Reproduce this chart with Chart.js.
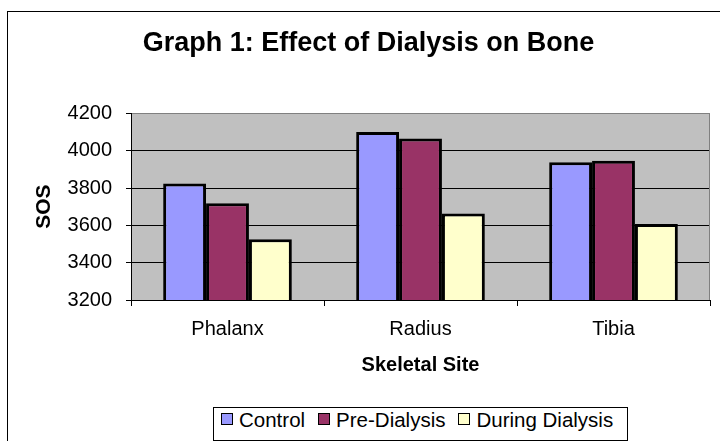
<!DOCTYPE html>
<html>
<head>
<meta charset="utf-8">
<script src="https://cdn.jsdelivr.net/npm/chart.js@4.4.1/dist/chart.umd.min.js"></script>
<style>
  html, body { margin: 0; padding: 0; background: #fff; overflow: hidden; width: 720px; height: 441px; }
  #frame { position: absolute; left: 7px; top: 11px; width: 721px; height: 440px; border: 1px solid #000; }
  #legend {
    position: absolute; left: 213px; top: 407px; width: 415px; height: 34px;
    box-sizing: border-box; border: 1px solid #000; display: flex; align-items: flex-start;
    padding-left: 7px; font: 20.5px "Liberation Sans", Arial, sans-serif; line-height: 24px; color: #000;
    white-space: nowrap; background: #fff;
  }
  #legend .item { display: flex; align-items: flex-start; margin-right: 13px; }
  #legend .box { width: 10px; height: 10px; border: 1.5px solid #000; margin-top: 5px; margin-right: 6px; }
</style>
</head>
<body>
<div id="frame"><canvas id="chart"></canvas></div>
<div id="legend"></div>
<script>
// values
const categories = ["Phalanx", "Radius", "Tibia"];
const control = [3825, 4100, 3938];
const preDialysis = [3718, 4066, 3946];
const duringDialysis = [3525, 3664, 3607];

const seriesNames = ["Control", "Pre-Dialysis", "During Dialysis"];
const seriesColors = ["#9999FF", "#993366", "#FFFFCC"];

Chart.defaults.font.family = "'Liberation Sans', Arial, sans-serif";
Chart.defaults.color = "#000";

const plotBackground = {
  id: "plotBackground",
  beforeDraw(chart) {
    const { ctx, chartArea: a } = chart;
    ctx.save();
    ctx.fillStyle = "#C0C0C0";
    ctx.fillRect(a.left, a.top, a.right - a.left, a.bottom - a.top);
    ctx.restore();
  },
  afterDatasetsDraw(chart) {
    const { ctx, chartArea: a } = chart;
    ctx.save();
    ctx.strokeStyle = "#808080";
    ctx.lineWidth = 1;
    ctx.beginPath();
    ctx.moveTo(Math.round(a.right) - 0.5, a.top);
    ctx.lineTo(Math.round(a.right) - 0.5, a.bottom);
    ctx.stroke();
    ctx.restore();
  }
};

const allValues = [control, preDialysis, duringDialysis];

new Chart(document.getElementById("chart"), {
  type: "bar",
  data: {
    labels: categories,
    datasets: allValues.map((vals, i) => ({
      label: seriesNames[i],
      data: vals,
      backgroundColor: seriesColors[i],
      borderColor: "#000",
      borderWidth: 3,
      barPercentage: 1,
      categoryPercentage: 3 / 4.5
    }))
  },
  options: {
    responsive: true,
    maintainAspectRatio: false,
    animation: false,
    // equal side padding keeps the title centred on the whole frame
    layout: { padding: { left: 19, right: 19, top: 0, bottom: 52 } },
    plugins: {
      legend: { display: false },
      tooltip: { enabled: false },
      title: {
        display: true,
        text: "Graph 1: Effect of Dialysis on Bone",
        font: { size: 27, weight: "bold" },
        color: "#000",
        padding: { top: 15, bottom: 54 }
      }
    },
    scales: {
      x: {
        afterFit: (s) => { s.height = 100; },
        grid: { drawOnChartArea: false, tickLength: 6, tickColor: "#000", offset: true },
        border: { color: "#000", width: 1 },
        ticks: { font: { size: 20 }, padding: 11, color: "#000" },
        title: { display: true, text: "Skeletal Site", font: { size: 20, weight: "bold" }, color: "#000", padding: { top: 0, bottom: 23 } }
      },
      y: {
        min: 3200,
        max: 4200,
        afterFit: (s) => { s.width = 104; },
        grid: {
          color: (c) => (c.tick && c.tick.value === 4200 ? "#808080" : "#000"),
          tickColor: "#000",
          tickLength: 5
        },
        border: { color: "#000", width: 1 },
        ticks: { stepSize: 200, font: { size: 20 }, padding: 14, color: "#000", callback: (v) => String(v) },
        title: { display: true, text: "SOS", font: { size: 21, weight: "bold" }, color: "#000", padding: { top: 5, bottom: 0 } }
      }
    }
  },
  plugins: [plotBackground]
});

// legend as html, same labels and colours as the datasets
const legend = document.getElementById("legend");
seriesNames.forEach((name, i) => {
  const item = document.createElement("div");
  item.className = "item";
  item.innerHTML = `<span class="box" style="background:${seriesColors[i]}"></span><span>${name}</span>`;
  legend.appendChild(item);
});
</script>
</body>
</html>
